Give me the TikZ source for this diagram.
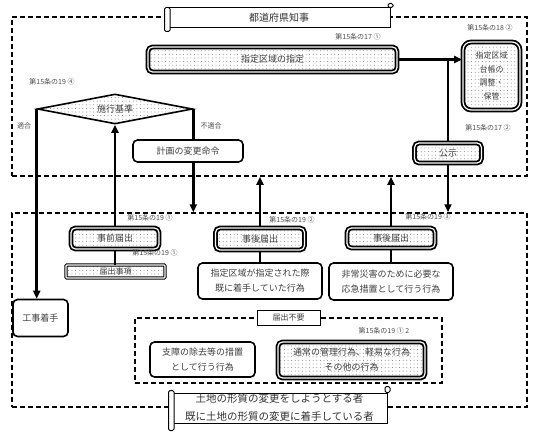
\documentclass[tikz,border=0pt]{standalone}
\usepackage{fontspec}
\setmainfont{Noto Sans CJK JP}
\usetikzlibrary{positioning,arrows.meta,shapes.geometric,patterns.meta}
\tikzset{
  frame/.style={draw, line width=1.5pt, dash pattern=on 5pt off 3pt, inner sep=0pt},
  box/.style={draw, line width=1.6pt, rounded corners=4.5pt, fill=white, align=center,
    inner sep=1pt, text=black!75, font=\fontsize{9}{15}\selectfont},
  dotbox/.style={box, preaction={fill=white}, pattern={Dots[distance=3.6pt,radius=0.5pt]},
    pattern color=black!50},
  dbl/.style={dotbox, line width=1.8pt, double=white, double distance=1.2pt},
  thin dbl/.style={dotbox, rounded corners=1pt, line width=1pt, double=white, double distance=1.2pt},
  scroll/.style={draw, line width=1pt, fill=white, align=center, inner sep=1pt, text=black!80},
  roll/.style={draw, line width=1pt, fill=white, rounded corners=1.5pt},
  tag/.style={draw, line width=0.7pt, fill=white, inner sep=1pt, text=black!75,
    font=\fontsize{8}{9}\selectfont},
  arr/.style={-{Triangle[length=8pt,width=7pt]}, line width=2.6pt},
  conn/.style={line width=2.6pt},
  lab/.style={font=\fontsize{7}{8}\selectfont, text=black!70, inner sep=0pt},
}
\begin{document}
\begin{tikzpicture}[x=1pt,y=-1pt]
  \useasboundingbox (0,0) rectangle (539,436);
  % dashed frames
  \node[frame, minimum width=515pt, minimum height=159pt] (pref) at (269.5,96.5) {};
  \node[frame, minimum width=515pt, minimum height=194pt] (low) at (269.5,310) {};
  \node[frame, minimum width=307pt, minimum height=65pt] (nofile) at (288.5,350.5) {};
  % prefecture side
  \node[scroll, minimum width=222pt, minimum height=20pt, font=\fontsize{10}{12}\selectfont] (ttl) at (279,18) {都道府県知事};
  \draw[roll] ([xshift=-3pt]ttl.north west) rectangle ([xshift=2.5pt,yshift=-3pt]ttl.south west);
  \draw[roll] ([xshift=-2.5pt,yshift=4pt]ttl.north east) rectangle ([xshift=2.5pt]ttl.north east);
  \node[dbl, minimum width=249pt, minimum height=25pt] (spec) at (272.5,59.5) {指定区域の指定};
  \node[dbl, rounded corners=8pt, minimum width=57pt, minimum height=68pt,
    font=\fontsize{8}{13.5}\selectfont] (ledger) at (491.5,76) {指定区域\\台帳の\\調整・\\保管};
  \node[dbl, minimum width=67pt, minimum height=20pt] (pub) at (448,153) {公示};
  \node[dotbox, diamond, draw, line width=1.6pt, rounded corners=0pt, aspect=5, inner sep=0pt,
    minimum width=155pt, minimum height=30pt] (crit) at (115,109) {施行基準};
  \node[box, minimum width=110pt, minimum height=22pt] (order) at (188,151) {計画の変更命令};
  \node[lab] (a17a) at (358,37) {第15条の17 ①};
  \node[lab] (a18) at (490,28) {第15条の18 ②};
  \node[lab] (a17b) at (488,128) {第15条の17 ②};
  \node[lab] (a19d) at (52,82) {第15条の19 ④};
  \node[lab] (ok) at (24,126) {適合};
  \node[lab] (ng) at (211,126) {不適合};
  % land owner side
  \node[box, minimum width=55pt, minimum height=37pt] (start) at (40.5,318) {工事着手};
  \node[dbl, minimum width=88pt, minimum height=21pt] (pre) at (115,238.5) {事前届出};
  \node[thin dbl, minimum width=99pt, minimum height=13pt, font=\fontsize{8}{9}\selectfont] (item) at (115.5,271.5) {届出事項};
  \node[dbl, minimum width=89pt, minimum height=22pt] (post1) at (260,239) {事後届出};
  \node[box, minimum width=124pt, minimum height=36pt] (act1) at (260,281) {指定区域が指定された際\\既に着手していた行為};
  \node[dbl, minimum width=88pt, minimum height=20pt] (post2) at (391,238) {事後届出};
  \node[box, minimum width=124pt, minimum height=37pt] (act2) at (391,281.5) {非常災害のために必要な\\応急措置として行う行為};
  \node[lab] (a19a) at (150,218) {第15条の19 ①};
  \node[lab] (a19a2) at (155,253) {第15条の19 ①};
  \node[lab] (a19b) at (292,220) {第15条の19 ②};
  \node[lab] (a19c) at (428,217) {第15条の19 ③};
  % no notification needed
  \node[tag, minimum width=63pt, minimum height=15pt] (nof) at (288.5,317.5) {届出不要};
  \node[lab] (a19e) at (384,331) {第15条の19 ① 2};
  \node[box, minimum width=105pt, minimum height=35pt] (remove) at (202.5,359.5) {支障の除去等の措置\\として行う行為};
  \node[dbl, minimum width=147pt, minimum height=36pt] (usual) at (351.5,360) {通常の管理行為、軽易な行為\\その他の行為};
  \node[scroll, minimum width=215pt, minimum height=30pt, font=\fontsize{10.5}{18}\selectfont] (owner) at (279.5,408)
    {土地の形質の変更をしようとする者\\既に土地の形質の変更に着手している者};
  \draw[roll] ([xshift=-3pt,yshift=2pt]owner.north west) rectangle ([xshift=2.5pt,yshift=-7pt]owner.south west);
  \draw[roll] ([xshift=-2.5pt,yshift=6pt]owner.north east) rectangle ([xshift=2.5pt]owner.north east);
  % connectors
  \draw[arr] (spec.east) -- (spec.east -| ledger.west);
  \draw[conn] (pub.north |- spec.east) -- (pub.north);
  \draw[arr] (pub.south) -- (pub.south |- low.north);
  \draw[arr] (crit.west) -- (crit.west |- start.north);
  \draw[conn] (crit.east) -- (crit.east |- order.north);
  \draw[arr] (crit.east |- order.south) -- (crit.east |- low.north);
  \draw[arr] (pre.north) -- (crit.south);
  \draw[conn] (pre.south) -- (pre.south |- item.north);
  \draw[arr] (post1.north) -- (post1.north |- pref.south);
  \draw[conn] (post1.south) -- (post1.south |- act1.north);
  \draw[arr] (post2.north) -- (post2.north |- pref.south);
  \draw[conn] (post2.south) -- (post2.south |- act2.north);
\end{tikzpicture}
\end{document}
